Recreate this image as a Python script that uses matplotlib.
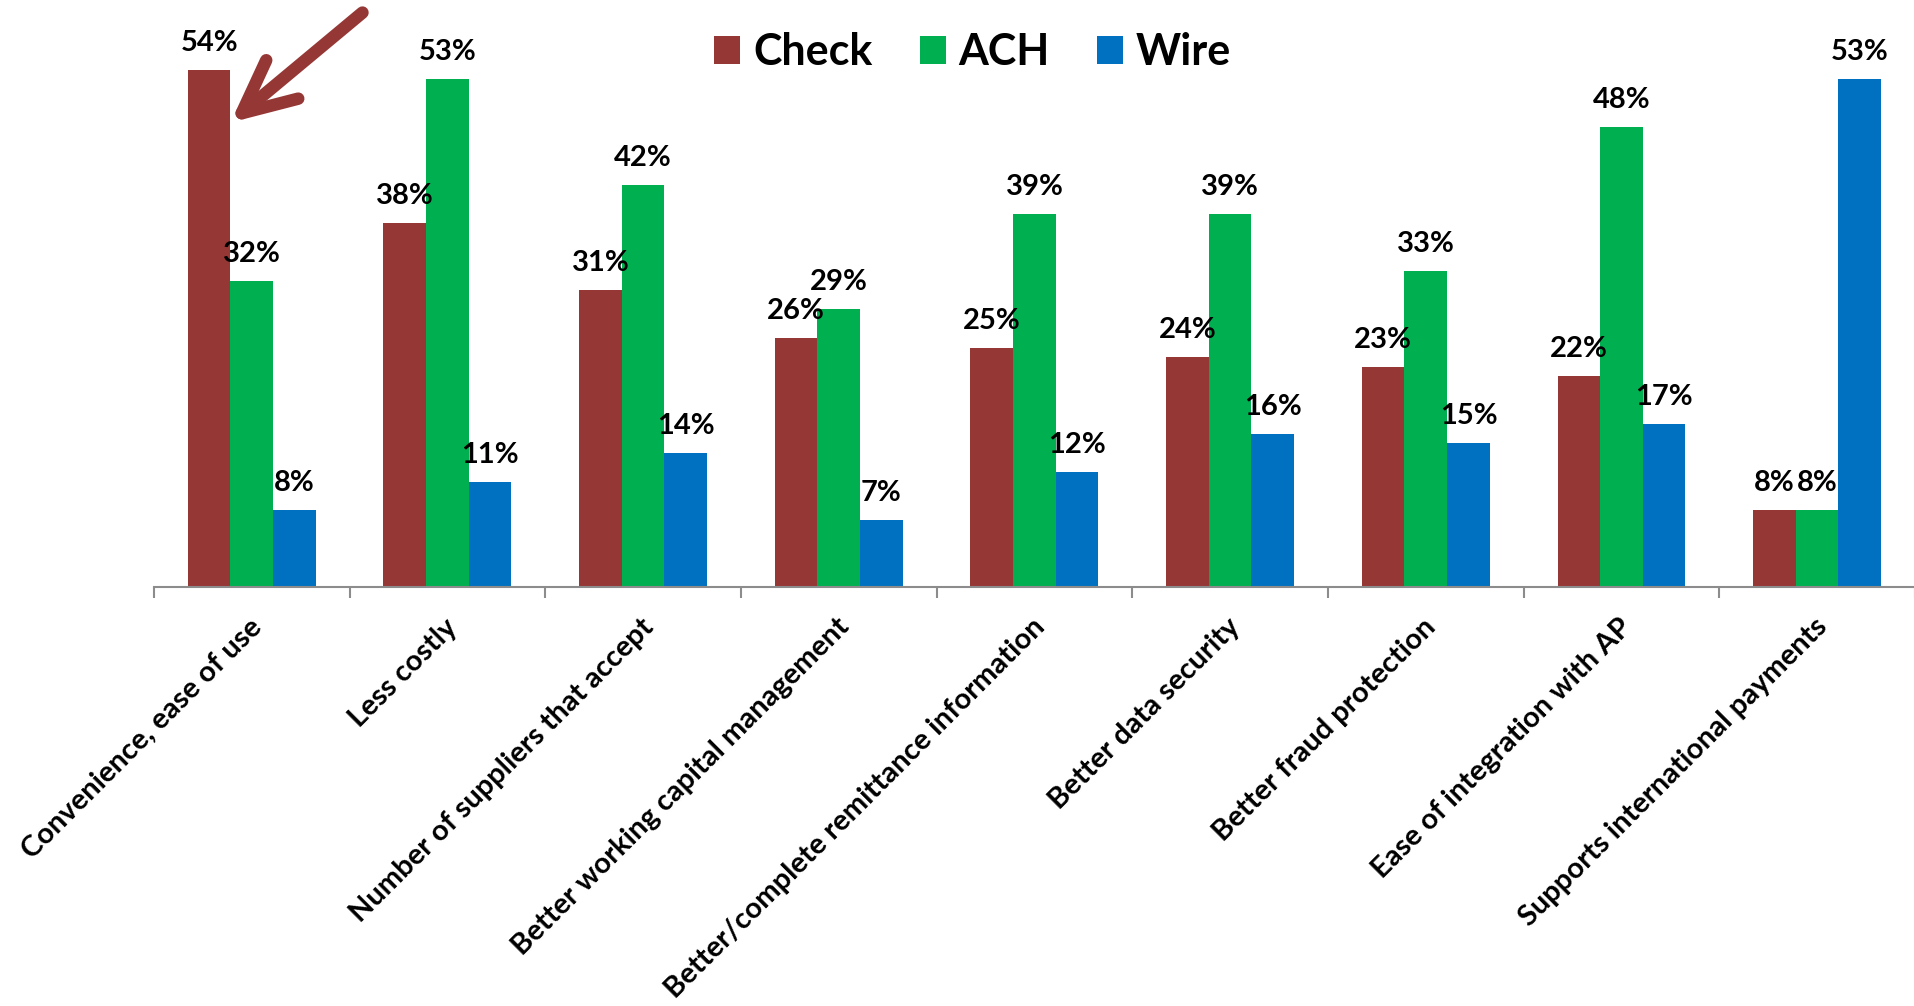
import matplotlib
matplotlib.use("Agg")
import matplotlib.pyplot as plt
import numpy as np

categories = ["Convenience, ease of use", "Less costly", "Number of suppliers that accept",
              "Better working capital management", "Better/complete remittance information",
              "Better data security", "Better fraud protection", "Ease of integration with AP",
              "Supports international payments"]
check = [54, 38, 31, 26, 25, 24, 23, 22, 8]
ach = [32, 53, 42, 29, 39, 39, 33, 48, 8]
wire = [8, 11, 14, 7, 12, 16, 15, 17, 53]
series_names = ["Check", "ACH", "Wire"]
colors = ["#953735", "#00B050", "#0070C0"]

plt.rcParams['font.family'] = ['Lato', 'DejaVu Sans']
plt.rcParams['font.weight'] = 'bold'

fig = plt.figure(figsize=(19.15, 10.06), dpi=100)
ax = fig.add_axes([0.0804, 0.4165, 0.9196, 0.5835])

x = np.arange(len(categories))
bw = 0.218
handles = []
for k, (vals, name, col) in enumerate(zip([check, ach, wire], series_names, colors)):
    pos = x + (k - 1) * bw
    bars = ax.bar(pos, vals, width=bw, color=col, label=name, linewidth=0)
    handles.append(bars)
    for p, v in zip(pos, vals):
        ax.annotate(f"{v}%", (p, v), xytext=(0, 14), textcoords='offset pixels',
                    ha='center', va='bottom', fontsize=21, fontweight='bold', color='black')

ax.set_xlim(-0.5, len(categories) - 0.5)
ax.set_ylim(0, 61.3)
for s in ['top', 'right', 'left']:
    ax.spines[s].set_visible(False)
ax.spines['bottom'].set_color('#8c8c8c')
ax.spines['bottom'].set_linewidth(1.5)
ax.set_yticks([])
ax.set_xticks(np.arange(len(categories) + 1) - 0.5, minor=True)
ax.tick_params(axis='x', which='minor', length=8, width=1.5, color='#8c8c8c')
ax.set_xticks(x)
ax.set_xticklabels([])
ax.tick_params(axis='x', which='major', length=0)

for xi, lab in zip(x, categories):
    ax.annotate(lab, (xi, 0), xytext=(6, -36), textcoords='offset pixels',
                rotation=45, rotation_mode='anchor', ha='right', va='center',
                fontsize=21, fontweight='bold')

fig.legend(handles=handles, labels=series_names, loc='center', bbox_to_anchor=(0.508, 0.948),
           ncol=3, frameon=False, prop={'weight': 'bold', 'size': 31},
           handlelength=0.6, handleheight=0.6, handletextpad=0.3, columnspacing=1.1)

ax.annotate("", xy=(-bw / 2, 48.5), xytext=(132, 110), textcoords='offset pixels',
            arrowprops=dict(arrowstyle='->,head_length=1.9,head_width=0.9', color='#953735',
                            lw=9, shrinkA=0, shrinkB=0, mutation_scale=20,
                            capstyle='round', joinstyle='round'))

fig.savefig("out.png", dpi=100)
